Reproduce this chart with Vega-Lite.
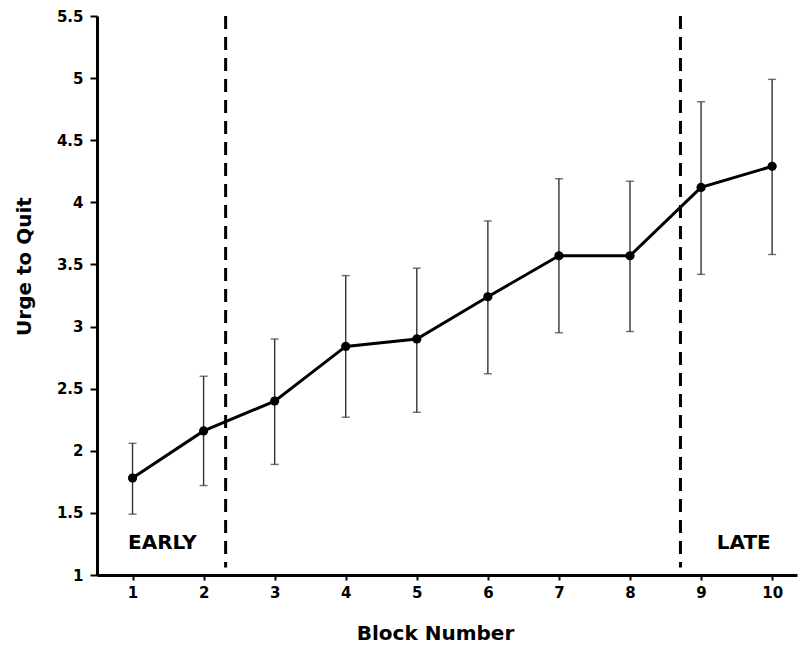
{
  "$schema": "https://vega.github.io/schema/vega-lite/v6.json",
  "width": 700,
  "height": 559,
  "autosize": {"type": "none"},
  "padding": {"left": 97, "top": 16, "right": 2, "bottom": 75},
  "background": "white",
  "config": {"view": {"stroke": null}, "font": "DejaVu Sans"},
  "datasets": {
    "main": [
      {"block": 1, "mean": 1.78, "lo": 1.49, "hi": 2.06},
      {"block": 2, "mean": 2.16, "lo": 1.72, "hi": 2.60},
      {"block": 3, "mean": 2.40, "lo": 1.89, "hi": 2.90},
      {"block": 4, "mean": 2.84, "lo": 2.27, "hi": 3.41},
      {"block": 5, "mean": 2.90, "lo": 2.31, "hi": 3.47},
      {"block": 6, "mean": 3.24, "lo": 2.62, "hi": 3.85},
      {"block": 7, "mean": 3.57, "lo": 2.95, "hi": 4.19},
      {"block": 8, "mean": 3.57, "lo": 2.96, "hi": 4.17},
      {"block": 9, "mean": 4.12, "lo": 3.42, "hi": 4.81},
      {"block": 10, "mean": 4.29, "lo": 3.58, "hi": 4.99}
    ],
    "dividers": [
      {"block": 2.31, "top": 5.5, "bot": 1.06},
      {"block": 8.71, "top": 5.5, "bot": 1.06}
    ],
    "labels": [
      {"block": 1.42, "y": 1.258, "text": "EARLY"},
      {"block": 9.6, "y": 1.258, "text": "LATE"}
    ]
  },
  "layer": [
    {
      "data": {"name": "dividers"},
      "mark": {"type": "rule", "strokeDash": [13, 8], "strokeWidth": 3, "color": "black"},
      "encoding": {
        "x": {
          "field": "block", "type": "quantitative", "title": "Block Number",
          "scale": {"domain": [0.5, 10.35], "nice": false, "zero": false},
          "axis": {
            "values": [1, 2, 3, 4, 5, 6, 7, 8, 9, 10], "format": "d", "grid": false,
            "domainWidth": 3, "domainColor": "black", "tickColor": "black", "tickWidth": 2, "tickSize": 5,
            "labelFont": "DejaVu Sans", "labelFontWeight": "bold", "labelFontSize": 15, "labelColor": "black", "labelPadding": 5,
            "titleFont": "DejaVu Sans", "titleFontWeight": "bold", "titleFontSize": 20, "titleColor": "black", "titlePadding": 23, "titleX": 338
          }
        },
        "y": {
          "field": "top", "type": "quantitative", "title": "Urge to Quit",
          "scale": {"domain": [1, 5.5], "nice": false, "zero": false},
          "axis": {
            "values": [1, 1.25, 1.5, 1.75, 2, 2.25, 2.5, 2.75, 3, 3.25, 3.5, 3.75, 4, 4.25, 4.5, 4.75, 5, 5.25, 5.5],
            "format": "~g",
            "labelExpr": "datum.value % 0.5 == 0 ? datum.label : ''",
            "tickSize": {"condition": {"test": "datum.value % 0.5 != 0", "value": 3}, "value": 7},
            "grid": false, "domainWidth": 3, "domainColor": "black", "tickColor": "black", "tickWidth": 2,
            "labelFont": "DejaVu Sans", "labelFontWeight": "bold", "labelFontSize": 15, "labelColor": "black", "labelPadding": 7,
            "titleFont": "DejaVu Sans", "titleFontWeight": "bold", "titleFontSize": 20, "titleColor": "black", "titlePadding": 22, "titleY": 250
          }
        },
        "y2": {"field": "bot"}
      }
    },
    {
      "data": {"name": "main"},
      "mark": {"type": "errorbar", "ticks": {"size": 8, "thickness": 1.4, "color": "#333"}, "rule": {"strokeWidth": 1.4, "color": "#333"}},
      "encoding": {
        "x": {"field": "block", "type": "quantitative", "title": "Block Number", "scale": {"domain": [0.5, 10.35], "nice": false, "zero": false}},
        "y": {"field": "lo", "type": "quantitative", "title": "Urge to Quit", "scale": {"domain": [1, 5.5], "nice": false, "zero": false}},
        "y2": {"field": "hi"}
      }
    },
    {
      "data": {"name": "main"},
      "mark": {"type": "line", "color": "black", "strokeWidth": 3},
      "encoding": {
        "x": {"field": "block", "type": "quantitative", "title": "Block Number", "scale": {"domain": [0.5, 10.35], "nice": false, "zero": false}},
        "y": {"field": "mean", "type": "quantitative", "title": "Urge to Quit", "scale": {"domain": [1, 5.5], "nice": false, "zero": false}}
      }
    },
    {
      "data": {"name": "main"},
      "mark": {"type": "point", "filled": true, "color": "black", "size": 85, "opacity": 1},
      "encoding": {
        "x": {"field": "block", "type": "quantitative", "title": "Block Number", "scale": {"domain": [0.5, 10.35], "nice": false, "zero": false}},
        "y": {"field": "mean", "type": "quantitative", "title": "Urge to Quit", "scale": {"domain": [1, 5.5], "nice": false, "zero": false}}
      }
    },
    {
      "data": {"name": "labels"},
      "mark": {"type": "text", "font": "DejaVu Sans", "fontWeight": "bold", "fontSize": 20, "color": "black", "align": "center", "baseline": "middle"},
      "encoding": {
        "x": {"field": "block", "type": "quantitative", "title": "Block Number", "scale": {"domain": [0.5, 10.35], "nice": false, "zero": false}},
        "y": {"field": "y", "type": "quantitative", "title": "Urge to Quit", "scale": {"domain": [1, 5.5], "nice": false, "zero": false}},
        "text": {"field": "text"}
      }
    }
  ]
}
